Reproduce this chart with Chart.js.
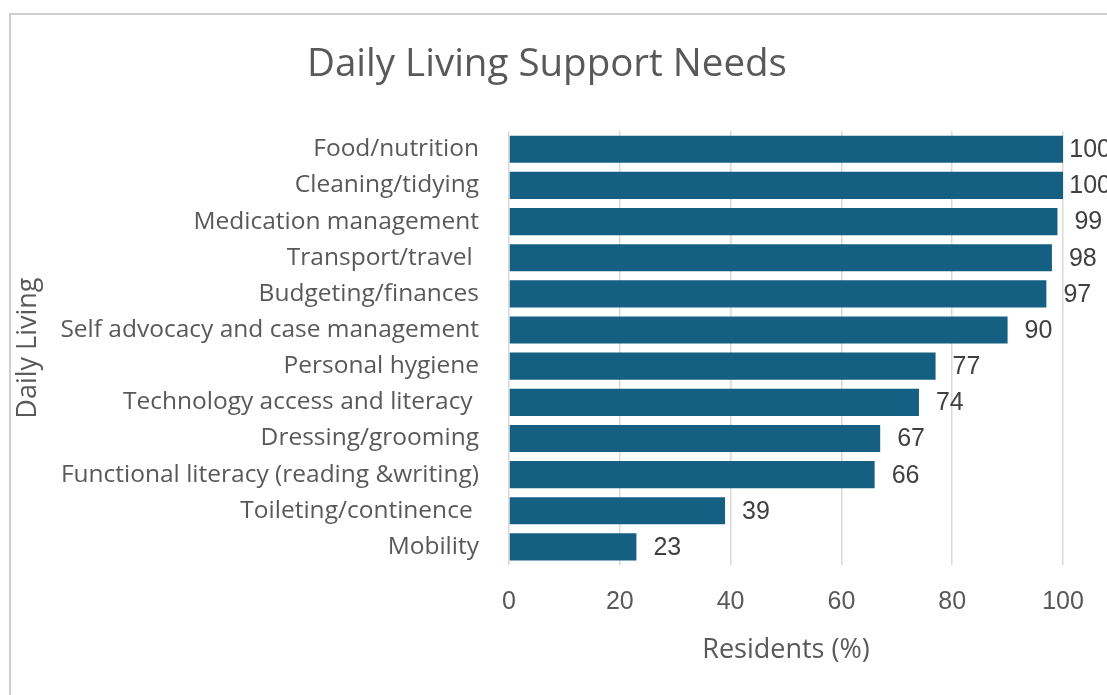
<!DOCTYPE html>
<html>
<head>
<meta charset="utf-8">
<title>Daily Living Support Needs</title>
<script src="https://cdn.jsdelivr.net/npm/chart.js@4.4.1/dist/chart.umd.min.js"></script>
<style>
  html, body { margin: 0; padding: 0; background: #fff; overflow: hidden; }
  #wrap { position: relative; width: 1107px; height: 695px; }
  #frame {
    position: absolute; left: 9px; top: 13px; width: 1200px; height: 800px;
    border: 2px solid #cfcfcf; box-sizing: border-box;
  }
  canvas { position: absolute; left: 0; top: 0; }
</style>
</head>
<body>
<div id="wrap">
  <div id="frame"></div>
  <canvas id="chart" width="1107" height="695"></canvas>
</div>
<script>
// ---- Data ----
const categories = [
  "Food/nutrition",
  "Cleaning/tidying",
  "Medication management",
  "Transport/travel ",
  "Budgeting/finances",
  "Self advocacy and case management",
  "Personal hygiene",
  "Technology access and literacy ",
  "Dressing/grooming",
  "Functional literacy (reading &writing)",
  "Toileting/continence ",
  "Mobility"
];
const residentsPct = [100, 100, 99, 98, 97, 90, 77, 74, 67, 66, 39, 23];
const xTicks = [0, 20, 40, 60, 80, 100];

const textGrey = "#595959";
const labelFont = "Open Sans";
const numberFont = "'Liberation Sans', Arial";

// ---- Value labels at the end of each bar ----
const valueLabels = {
  id: "valueLabels",
  afterDatasetsDraw(chart) {
    const ctx = chart.ctx;
    const meta = chart.getDatasetMeta(0);
    ctx.save();
    ctx.font = "25px " + numberFont;
    ctx.fillStyle = "#404040";
    ctx.textBaseline = "middle";
    ctx.textAlign = "left";
    meta.data.forEach((bar, i) => {
      const txt = String(residentsPct[i]);
      const w = ctx.measureText(txt).width;
      // pull long labels back towards the edge instead of pushing them off
      const x = Math.min(bar.x + 17, chart.width - w + 4);
      ctx.fillText(txt, x, bar.y + 1);
    });
    ctx.restore();
  }
};

// ---- Chart.js ----
const ctx = document.getElementById("chart").getContext("2d");

new Chart(ctx, {
  type: "bar",
  data: {
    labels: categories,
    datasets: [{
      data: residentsPct,
      backgroundColor: "#156082",
      borderWidth: 0,
      categoryPercentage: 0.75,
      barPercentage: 1
    }]
  },
  plugins: [valueLabels],
  options: {
    indexAxis: "y",
    responsive: false,
    animation: false,
    layout: { padding: { left: 31, right: 44, top: 0, bottom: 0 } },
    plugins: {
      legend: { display: false },
      tooltip: { enabled: false },
      title: {
        display: true,
        text: "Daily Living Support Needs",
        color: textGrey,
        font: { family: labelFont, size: 38.5, weight: "normal" },
        padding: { top: 42, bottom: 43 }
      }
    },
    scales: {
      x: {
        min: 0,
        max: 100,
        afterBuildTicks(scale) {
          scale.ticks = xTicks.map(v => ({ value: v }));
        },
        afterFit(scale) { scale.height = 130; },
        grid: { color: "#d9d9d9", lineWidth: 1.5, drawTicks: false },
        border: { display: false },
        ticks: {
          color: textGrey,
          padding: 22,
          font: { family: numberFont, size: 25 }
        },
        title: {
          display: true,
          text: "Residents (%)",
          color: textGrey,
          font: { family: labelFont, size: 27 },
          padding: { top: 0, bottom: 28 }
        }
      },
      y: {
        afterFit(scale) { scale.width = 478; },
        grid: { display: false, drawTicks: false },
        border: { display: false },
        ticks: {
          color: textGrey,
          padding: 30,
          font: { family: labelFont, size: 24.5 }
        },
        title: {
          display: true,
          text: "Daily Living",
          color: textGrey,
          font: { family: labelFont, size: 27 },
          padding: { top: -19, bottom: 0 }
        }
      }
    }
  }
});
</script>
</body>
</html>
